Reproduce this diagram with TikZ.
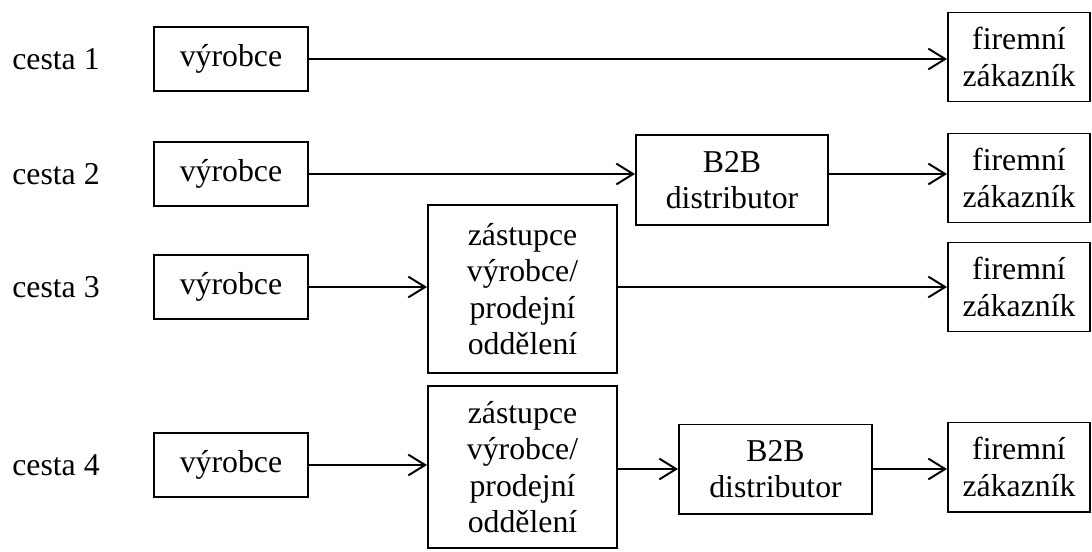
\documentclass[tikz,border=0pt]{standalone}
\usepackage{fontspec}
\setmainfont{Liberation Serif}
\usetikzlibrary{arrows.meta, positioning}

\begin{document}
\begin{tikzpicture}[
  x=0.025cm, y=-0.025cm,
  box/.style={rectangle, draw=black, line width=1.4pt, inner sep=0pt, align=center,
    font=\fontsize{22.6}{26}\selectfont},
  label/.style={anchor=west, inner sep=0pt, font=\fontsize{22.6}{26}\selectfont},
  arr/.style={-{Straight Barb[length=0.42cm, width=0.52cm, line width=1.4pt]}, line width=1.4pt}
]
\useasboundingbox (0,0) rectangle (1092,552);

% Row 1
\node[label] (c1) at (12, 59) {cesta 1};
\node[box, minimum width=3.85cm, minimum height=1.6cm] (v1) at (231, 59) {výrobce};
\node[box, minimum width=3.55cm, minimum height=2.225cm] (f1) at (1019, 57) {firemní\\zákazník};

% Row 2
\node[label] (c2) at (12, 174) {cesta 2};
\node[box, minimum width=3.85cm, minimum height=1.6cm] (v2) at (231, 174) {výrobce};
\node[box, minimum width=4.8cm, minimum height=2.25cm] (b2) at (732, 180) {B2B\\distributor};
\node[box, minimum width=3.55cm, minimum height=2.225cm] (f2) at (1019, 178) {firemní\\zákazník};

% Row 3
\node[label] (c3) at (12, 287) {cesta 3};
\node[box, minimum width=3.85cm, minimum height=1.6cm] (v3) at (231, 287) {výrobce};
\node[box, minimum width=4.725cm, minimum height=4.2cm] (z3) at (522.5, 289) {zástupce\\výrobce/\\prodejní\\oddělení};
\node[box, minimum width=3.55cm, minimum height=2.225cm] (f3) at (1019, 287) {firemní\\zákazník};

% Row 4
\node[label] (c4) at (12, 465) {cesta 4};
\node[box, minimum width=3.85cm, minimum height=1.6cm] (v4) at (231, 465) {výrobce};
\node[box, minimum width=4.725cm, minimum height=4.025cm] (z4) at (522.5, 467) {zástupce\\výrobce/\\prodejní\\oddělení};
\node[box, minimum width=4.825cm, minimum height=2.225cm] (b4) at (775.5, 469) {B2B\\distributor};
\node[box, minimum width=3.55cm, minimum height=2.225cm] (f4) at (1019, 467) {firemní\\zákazník};

% Connectors
\draw[arr] (v1) -- (f1.west |- v1);
\draw[arr] (v2) -- (b2.west |- v2);
\draw[arr] (b2.east |- v2) -- (f2.west |- v2);
\draw[arr] (v3) -- (z3.west |- v3);
\draw[arr] (z3.east |- v3) -- (f3.west |- v3);
\draw[arr] (v4) -- (z4.west |- v4);
\draw[arr] (z4.east |- b4) -- (b4);
\draw[arr] (b4) -- (f4.west |- b4);
\end{tikzpicture}
\end{document}
